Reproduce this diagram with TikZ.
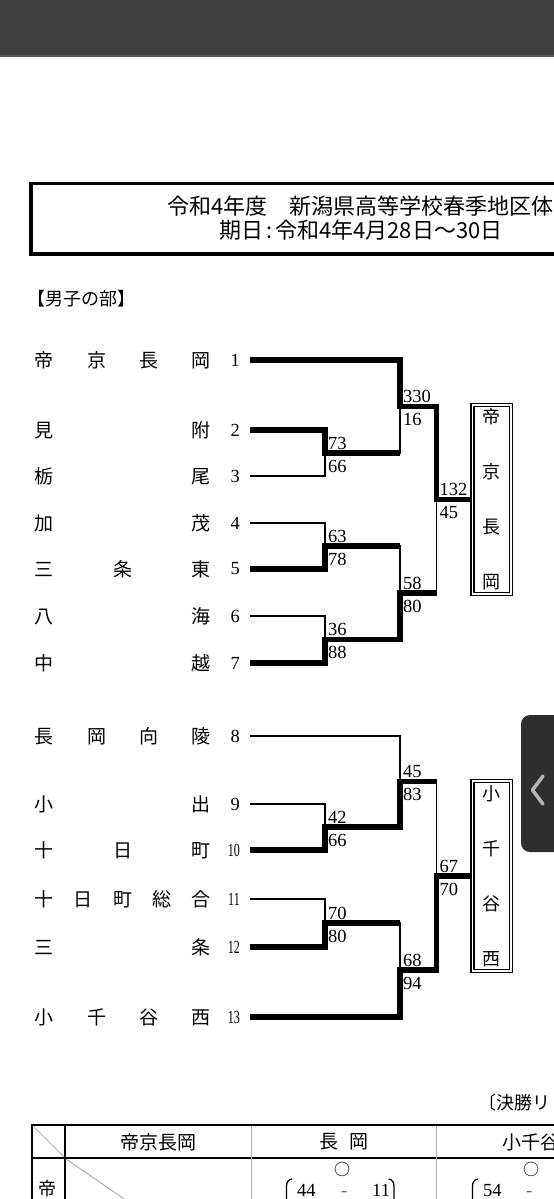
\documentclass[tikz,border=0pt]{standalone}
\usepackage{fontspec}
\usepackage{graphicx}
\setmainfont{Liberation Serif}
\newfontfamily\jp{Noto Sans CJK JP}
\definecolor{barcol}{HTML}{414141}
\definecolor{tabcol}{HTML}{2E2E2E}
\definecolor{chevcol}{HTML}{B4B4B4}
\definecolor{rulecol}{HTML}{B0B0B0}
\newcommand\sq[1]{\scalebox{0.65}[1]{#1}}
\newcommand\spread[1]{\hbox to 176pt{#1}}

\begin{document}
\begin{tikzpicture}[x=1pt, y=-1pt,
    lose/.style={line width=1.3pt},
    win/.style={line width=5.3pt},
    team/.style={anchor=west, inner sep=0pt, font=\jp\fontsize{19}{19}\selectfont},
    seed/.style={anchor=east, inner sep=0pt, font=\fontsize{18.5}{18}\selectfont},
    score hi/.style={anchor=base west, inner sep=0pt, xshift=3pt, yshift=4pt, font=\fontsize{18.5}{18}\selectfont},
    score lo/.style={anchor=base west, inner sep=0pt, xshift=3pt, yshift=-19pt, font=\fontsize{18.5}{18}\selectfont},
    champ/.style={draw, double, line width=1.2pt, double distance=1.8pt, minimum width=38.5pt,
        minimum height=189.5pt, inner sep=0pt, align=center, font=\jp\fontsize{18}{55}\selectfont},
    jtext/.style={inner sep=0pt, font=\jp\fontsize{19}{19}\selectfont},
    tabrule/.style={line width=2.5pt},
    tabgray/.style={line width=1pt, rulecol}]

    \useasboundingbox (0,0) rectangle (554,1199);
    \clip (0,0) rectangle (554,1199);
    \fill[white] (0,0) rectangle (554,1199);
    \fill[barcol] (0,0) rectangle (554,56);
    \draw[line width=1.2pt, black!65] (0,56) -- (554,56);

    % title
    \draw[line width=3.5pt] (31,183.5) rectangle (600,254);
    \node[jtext, anchor=west, font=\jp\fontsize{22}{22}\selectfont] (title) at (167,206)
        {令和4年度　新潟県高等学校春季地区体};
    \node[jtext, anchor=west, font=\jp\fontsize{22}{22}\selectfont] (date) at (219,230)
        {期日\hspace{3pt}:\hspace{3pt}令和4年4月28日～30日};
    \node[jtext, anchor=west, font=\jp\fontsize{18}{18}\selectfont] (sect) at (27,299) {【男子の部】};

    % teams
    \foreach \i/\y/\nm/\nr in {1/360/{帝\hfil 京\hfil 長\hfil 岡}/1, 2/430/{見\hfil 附}/2,
        3/476/{栃\hfil 尾}/3, 4/523/{加\hfil 茂}/4, 5/569/{三\hfil 条\hfil 東}/5,
        6/616/{八\hfil 海}/6, 7/663/{中\hfil 越}/7, 8/736/{長\hfil 岡\hfil 向\hfil 陵}/8,
        9/804/{小\hfil 出}/9, 10/850/{十\hfil 日\hfil 町}/{\sq{10}},
        11/899/{十\hfil 日\hfil 町\hfil 総\hfil 合}/{\sq{11}}, 12/947/{三\hfil 条}/{\sq{12}},
        13/1017/{小\hfil 千\hfil 谷\hfil 西}/{\sq{13}}} {
        \node[team] (t\i) at (34.5,\y) {\spread{\nm}};
        \node[seed] (n\i) at (240,\y) {\nr};
        \coordinate (p\i) at ([xshift=10pt]n\i.east);
    }

    \coordinate (A) at (325,453);
    \coordinate (B) at (325,546);
    \coordinate (C) at (325,639.5);
    \coordinate (D) at (400,406.5);
    \coordinate (E) at (400,593);
    \coordinate (F) at (436.5,499.5);
    \coordinate (G) at (325,827);
    \coordinate (H) at (400,781.5);
    \coordinate (I) at (325,923);
    \coordinate (J) at (400,970);
    \coordinate (K) at (436.5,876);

    \node[champ] (w1) at (491.75,499.5) {帝\\京\\長\\岡};
    \node[champ] (w2) at (491.75,876) {小\\千\\谷\\西};

    \foreach \a/\b in {p1/D, p2/A, p3/A, p4/B, p5/B, p6/C, p7/C, A/D, B/E, C/E, D/F, E/F,
        p8/H, p9/G, p10/G, G/H, p11/I, p12/I, I/J, p13/J, H/K, J/K}
        \draw[lose] (\a) -| (\b);
    \draw[lose] (F) -- (F -| w1.west);
    \draw[lose] (K) -- (K -| w2.west);

    \draw[win] (p1) -| (D) -| (F) -- (F -| w1.west);
    \draw[win] (p2) -| (A) -- (A -| D);
    \draw[win] (p5) -| (B) -- (B -| E);
    \draw[win] (p7) -| (C) -| (E) -- (E -| F);
    \draw[win] (p10) -| (G) -| (H) -- (H -| K);
    \draw[win] (p12) -| (I) -- (I -| J);
    \draw[win] (p13) -| (J) -| (K) -- (K -| w2.west);

    \foreach \j/\u/\d in {A/73/66, B/63/78, C/36/88, D/330/16, E/58/80, F/132/45,
        G/42/66, H/45/83, I/70/80, J/68/94, K/67/70} {
        \node[score hi] (u\j) at (\j) {\u};
        \node[score lo] (d\j) at (\j) {\d};
    }

    % final league
    \node[jtext, anchor=west, font=\jp\fontsize{18}{18}\selectfont] (lg) at (478,1103) {〔決勝リ};
    \draw[tabrule] (32,1215) |- (560,1125);
    \draw[tabrule] (65,1125) -- (65,1215);
    \draw[tabrule] (32,1158) -- (560,1158);
    \draw[tabgray] (251,1126) -- (251,1215);
    \draw[tabgray] (436,1126) -- (436,1215);
    \draw[tabgray] (33,1126) -- (64,1157);
    \draw[tabgray] (66,1159) -- (251,1286);
    \node[jtext] (h1) at (158,1142) {帝京長岡};
    \node[jtext] (h2) at (344,1142) {長\hspace{12pt}岡};
    \node[jtext, anchor=west] (h3) at (502,1142) {小千谷};
    \node[jtext, font=\jp\fontsize{18}{18}\selectfont] (r1) at (47,1189) {帝};
    \node[jtext, font=\jp\fontsize{16}{16}\selectfont] (o1) at (342,1169) {○};
    \node[jtext, font=\jp\fontsize{16}{16}\selectfont] (o2) at (531,1169) {○};
    \node[score hi, xshift=-3pt, yshift=-4pt] (s1) at (297,1196) {44};
    \node[score hi, xshift=-3pt, yshift=-4pt, text=black!60] (m1) at (341,1196) {-};
    \node[score hi, xshift=-3pt, yshift=-4pt] (s2) at (372,1196) {11};
    \node[score hi, xshift=-3pt, yshift=-4pt] (s3) at (483,1196) {54};
    \node[score hi, xshift=-3pt, yshift=-4pt, text=black!60] (m2) at (526,1196) {-};
    \draw[lose] (292,1179) to[out=180, in=90] (286.5,1186) -- (286.5,1205);
    \draw[lose] (388.5,1179) to[out=0, in=90] (394,1186) -- (394,1205);
    \draw[lose] (478,1179) to[out=180, in=90] (472.5,1186) -- (472.5,1205);

    % side tab
    \fill[tabcol, rounded corners=9pt] (521,715) rectangle (580,852);
    \draw[chevcol, line width=3.5pt, line cap=round, line join=round] (543,776) -- (532.5,790) -- (543,804);
\end{tikzpicture}
\end{document}
